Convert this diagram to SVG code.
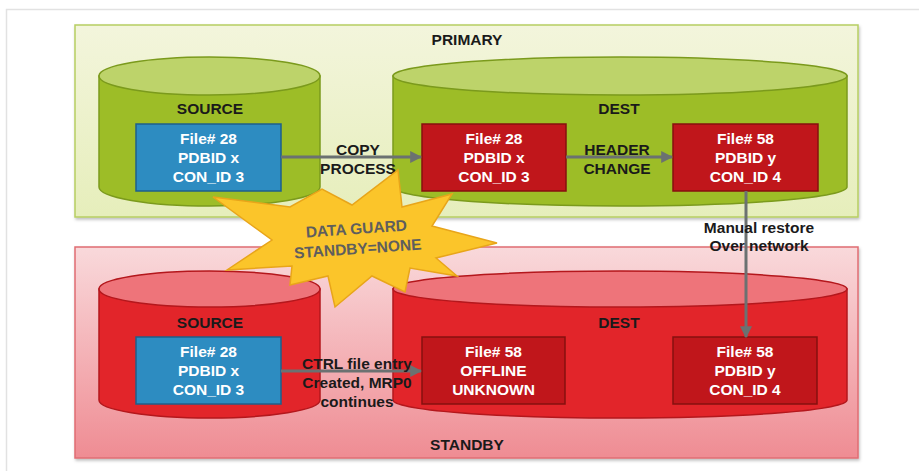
<svg xmlns="http://www.w3.org/2000/svg" width="919" height="471" viewBox="0 0 919 471">
<defs>
<linearGradient id="gPrim" x1="0" y1="0" x2="0" y2="1"><stop offset="0" stop-color="#f3f5dc"/><stop offset="1" stop-color="#e6eebb"/></linearGradient>
<linearGradient id="gStby" x1="0" y1="0" x2="0" y2="1"><stop offset="0" stop-color="#f9d9db"/><stop offset="1" stop-color="#ef8c93"/></linearGradient>
<marker id="ah" viewBox="0 0 10 10" refX="9" refY="5" markerWidth="4" markerHeight="4" orient="auto" markerUnits="strokeWidth"><path d="M0,0 L10,5 L0,10 Z" fill="#6b7171"/></marker>
<filter id="sh" x="-5%" y="-5%" width="110%" height="115%"><feDropShadow dx="1" dy="2" stdDeviation="1.5" flood-color="#000" flood-opacity="0.25"/></filter>
</defs>
<style>
.lbl{font-family:"Liberation Sans",Arial,sans-serif;font-weight:bold;font-size:15.5px;fill:#1a1a1a;text-anchor:middle}
.bt{font-family:"Liberation Sans",Arial,sans-serif;font-weight:bold;font-size:15.5px;fill:#ffffff;text-anchor:middle}
.gbody{fill:#9dbd27;stroke:#7b9a1c;stroke-width:1.5}
.gtop{fill:#bdd36a;stroke:#7b9a1c;stroke-width:1.5}
.rbody{fill:#e2252a;stroke:#b4171c;stroke-width:1.5}
.rtop{fill:#ee747a;stroke:#b4171c;stroke-width:1.5}
.blue{fill:#2d8cc1;stroke:#1e5f8b;stroke-width:1.5}
.red{fill:#c0161b;stroke:#86100f;stroke-width:1.5}
.conn{stroke:#6b7171;stroke-width:3;fill:none;marker-end:url(#ah)}
</style>
<rect x="0" y="0" width="919" height="471" fill="#ffffff"/>
<path d="M6.5,471 V9.5 H919" fill="none" stroke="#e2e2e2" stroke-width="1.5"/>

<g id="primary">
<rect x="75" y="25" width="783" height="192" fill="url(#gPrim)" stroke="#b7ce62" stroke-width="1.5" filter="url(#sh)"/>
<text class="lbl" x="467" y="45">PRIMARY</text>
</g>
<g id="standby">
<rect x="75" y="247" width="783" height="211" fill="url(#gStby)" stroke="#e06c73" stroke-width="1.5" filter="url(#sh)"/>
<text class="lbl" x="467" y="450">STANDBY</text>
</g>

<g id="p-source">
<path class="gbody" d="M99,76 V187 A110.5,19 0 0 0 320,187 V76 Z"/>
<ellipse class="gtop" cx="209.5" cy="76" rx="110.5" ry="19"/>
<text class="lbl" x="210" y="114">SOURCE</text>
</g>
<g id="p-dest">
<path class="gbody" d="M393,76 V187 A227,19 0 0 0 847,187 V76 Z"/>
<ellipse class="gtop" cx="620" cy="76" rx="227" ry="19"/>
<text class="lbl" x="619" y="114">DEST</text>
</g>
<g id="p-file28-src">
<rect class="blue" x="136" y="124" width="145" height="67"/>
<text class="bt" x="208.5" y="144">File# 28</text>
<text class="bt" x="208.5" y="163">PDBID x</text>
<text class="bt" x="208.5" y="182">CON_ID 3</text>
</g>
<g id="p-file28-dest">
<rect class="red" x="422" y="124" width="144" height="67"/>
<text class="bt" x="494" y="144">File# 28</text>
<text class="bt" x="494" y="163">PDBID x</text>
<text class="bt" x="494" y="182">CON_ID 3</text>
</g>
<g id="p-file58-dest">
<rect class="red" x="673" y="124" width="145" height="67"/>
<text class="bt" x="745.5" y="144">File# 58</text>
<text class="bt" x="745.5" y="163">PDBID y</text>
<text class="bt" x="745.5" y="182">CON_ID 4</text>
</g>

<g id="s-source">
<path class="rbody" d="M99,289 V400 A110.5,18 0 0 0 320,400 V289 Z"/>
<ellipse class="rtop" cx="209.5" cy="289" rx="110.5" ry="18"/>
<text class="lbl" x="210" y="328">SOURCE</text>
</g>
<g id="s-dest">
<path class="rbody" d="M393,289 V400 A227,18 0 0 0 847,400 V289 Z"/>
<ellipse class="rtop" cx="620" cy="289" rx="227" ry="18"/>
<text class="lbl" x="619" y="328">DEST</text>
</g>
<g id="s-file28-src">
<rect class="blue" x="136" y="337" width="145" height="67"/>
<text class="bt" x="208.5" y="357">File# 28</text>
<text class="bt" x="208.5" y="376">PDBID x</text>
<text class="bt" x="208.5" y="395">CON_ID 3</text>
</g>
<g id="s-file58-offline">
<rect class="red" x="422" y="337" width="143" height="67"/>
<text class="bt" x="493.5" y="357">File# 58</text>
<text class="bt" x="493.5" y="376">OFFLINE</text>
<text class="bt" x="493.5" y="395">UNKNOWN</text>
</g>
<g id="s-file58-dest">
<rect class="red" x="673" y="337" width="144" height="67"/>
<text class="bt" x="745" y="357">File# 58</text>
<text class="bt" x="745" y="376">PDBID y</text>
<text class="bt" x="745" y="395">CON_ID 4</text>
</g>

<g id="connectors">
<line class="conn" x1="281" y1="157" x2="421" y2="157"/>
<line class="conn" x1="566" y1="157" x2="672" y2="157"/>
<line class="conn" x1="746" y1="191" x2="746" y2="337"/>
<line class="conn" x1="281" y1="371" x2="421" y2="371"/>
<text class="lbl" x="358" y="155">COPY</text>
<text class="lbl" x="358" y="174">PROCESS</text>
<text class="lbl" x="617" y="155">HEADER</text>
<text class="lbl" x="617" y="174">CHANGE</text>
<text class="lbl" x="759" y="233" font-size="15">Manual restore</text>
<text class="lbl" x="759" y="251" font-size="15">Over network</text>
<text class="lbl" x="357" y="369" font-size="15">CTRL file entry</text>
<text class="lbl" x="357" y="388" font-size="15">Created, MRP0</text>
<text class="lbl" x="357" y="407" font-size="15">continues</text>
</g>

<g id="dataguard">
<polygon points="213,197 290,207 322,189 352,205 398,170 402,207 452,194 432,226 497,243 436,258 457,276 410,268 405,292 372,276 335,307 328,276 290,285 292,266 227,270 272,240" fill="#fbc52a" stroke="#e8a51a" stroke-width="1.5"/>
<g transform="rotate(-4 357 238)">
<text class="lbl" x="357" y="234" font-size="16" style="fill:#5e5e5e">DATA GUARD</text>
<text class="lbl" x="357" y="254" font-size="16" style="fill:#5e5e5e">STANDBY=NONE</text>
</g>
</g>
</svg>
